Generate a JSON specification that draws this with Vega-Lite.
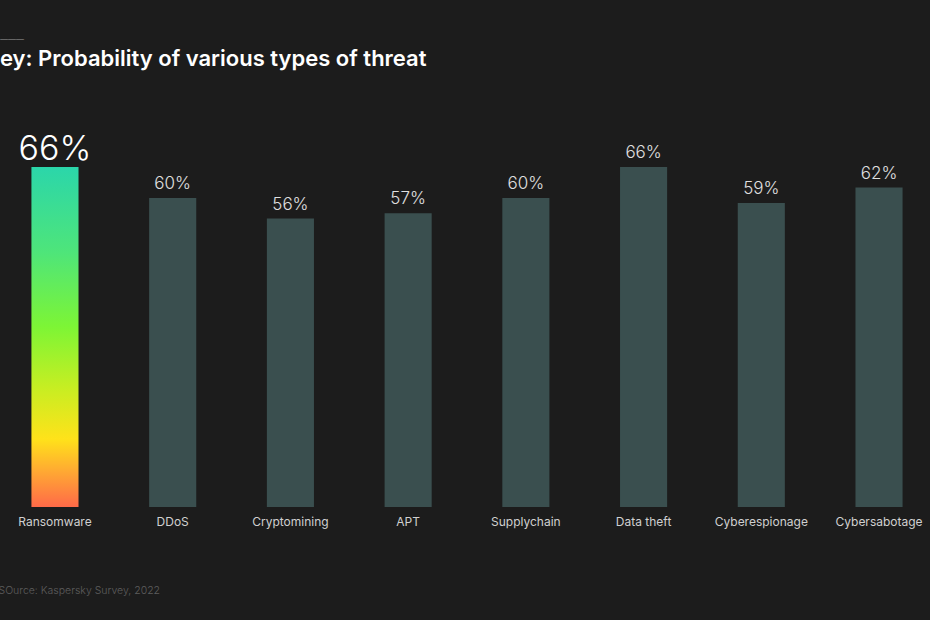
{
  "$schema": "https://vega.github.io/schema/vega-lite/v6.json",
  "width": 930,
  "height": 340,
  "autosize": {"type": "none"},
  "padding": {"left": 2, "top": 167, "right": 0, "bottom": 113},
  "background": "#1c1c1c",
  "config": {
    "view": {"stroke": null},
    "font": "Inter"
  },
  "title": {
    "text": "———",
    "subtitle": "ey: Probability of various types of threat",
    "anchor": "start",
    "frame": "group",
    "dx": -2,
    "offset": 63,
    "fontSize": 8,
    "fontWeight": 300,
    "color": "#a0a0a0",
    "subtitleFontSize": 22,
    "subtitleFontWeight": 600,
    "subtitleColor": "#ffffff",
    "subtitlePadding": 5
  },
  "data": {
    "values": [
      {"threat": "Ransomware", "value": 66, "label": "66%"},
      {"threat": "DDoS", "value": 60, "label": "60%"},
      {"threat": "Cryptomining", "value": 56, "label": "56%"},
      {"threat": "APT", "value": 57, "label": "57%"},
      {"threat": "Supplychain", "value": 60, "label": "60%"},
      {"threat": "Data theft", "value": 66, "label": "66%"},
      {"threat": "Cyberespionage", "value": 59, "label": "59%"},
      {"threat": "Cybersabotage", "value": 62, "label": "62%"}
    ]
  },
  "encoding": {
    "x": {
      "field": "threat",
      "type": "nominal",
      "sort": ["Ransomware", "DDoS", "Cryptomining", "APT", "Supplychain", "Data theft", "Cyberespionage", "Cybersabotage"],
      "scale": {"paddingInner": 0.6, "paddingOuter": 0.25},
      "axis": {
        "title": "SOurce: Kaspersky Survey, 2022",
        "titleAnchor": "start",
        "titleX": -4,
        "titleY": 86,
        "titleBaseline": "alphabetic",
        "titleFontSize": 10.5,
        "titleFontWeight": 300,
        "titleColor": "#5e5e5e",
        "labelAngle": 0,
        "labelFontSize": 12,
        "labelColor": "#d0d0d0",
        "labelPadding": 9,
        "ticks": false,
        "domain": false,
        "grid": false
      }
    },
    "y": {
      "field": "value",
      "type": "quantitative",
      "scale": {"domain": [0, 66], "nice": false},
      "axis": null
    }
  },
  "layer": [
    {
      "transform": [{"filter": "datum.threat !== 'Ransomware'"}],
      "mark": {"type": "bar", "color": "#3a4f4f"}
    },
    {
      "transform": [{"filter": "datum.threat === 'Ransomware'"}],
      "mark": {
        "type": "bar",
        "color": {
          "gradient": "linear",
          "x1": 0, "y1": 0, "x2": 0, "y2": 1,
          "stops": [
            {"offset": 0, "color": "#2bd6aa"},
            {"offset": 0.25, "color": "#4ee57a"},
            {"offset": 0.47, "color": "#7df535"},
            {"offset": 0.65, "color": "#c7ee22"},
            {"offset": 0.8, "color": "#ffe21a"},
            {"offset": 0.9, "color": "#ffa634"},
            {"offset": 1, "color": "#ff6a48"}
          ]
        }
      }
    },
    {
      "transform": [{"filter": "datum.threat !== 'Ransomware'"}],
      "mark": {"type": "text", "baseline": "alphabetic", "dy": -9, "fontSize": 17, "fontWeight": 300, "color": "#e0e0e0"},
      "encoding": {"text": {"field": "label"}}
    },
    {
      "transform": [{"filter": "datum.threat === 'Ransomware'"}],
      "mark": {"type": "text", "baseline": "alphabetic", "dy": -7, "fontSize": 34, "fontWeight": 300, "color": "#ffffff"},
      "encoding": {"text": {"field": "label"}}
    }
  ]
}
